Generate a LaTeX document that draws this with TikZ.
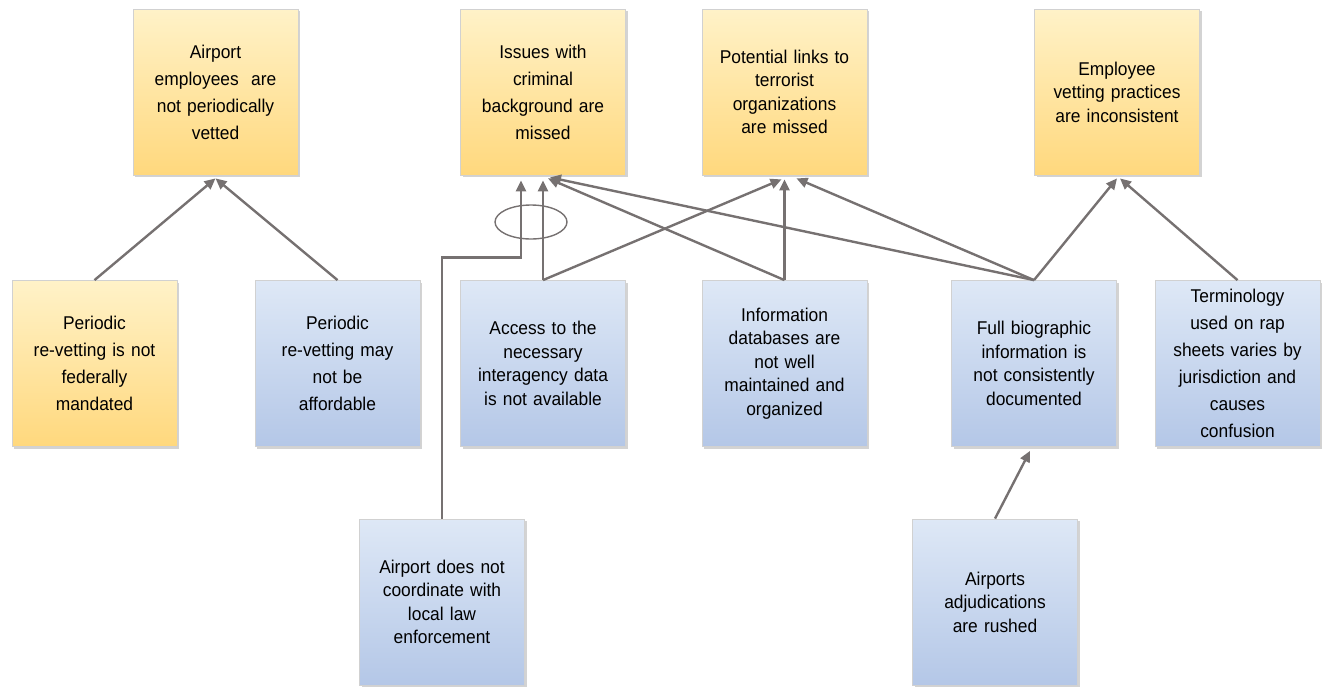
\documentclass[tikz,border=0pt]{standalone}
\usepackage{fontspec}
\setmainfont{Liberation Sans}[FakeStretch=0.94]
\usetikzlibrary{arrows.meta,shadows,shapes.geometric,calc}
\definecolor{linegray}{RGB}{118,113,113}
\definecolor{ytop}{RGB}{255,242,200}
\definecolor{ybot}{RGB}{255,216,125}
\definecolor{btop}{RGB}{222,232,246}
\definecolor{bbot}{RGB}{180,199,231}
\tikzset{
  card/.style={rectangle, minimum width=165pt, minimum height=166pt, text width=162pt,
    align=center, inner sep=0pt, draw=black!18, line width=0.8pt,
    drop shadow={shadow xshift=2pt, shadow yshift=-2pt, opacity=0.35, fill=black!50}},
  ycard/.style={card, top color=ytop, bottom color=ybot},
  bcard/.style={card, top color=btop, bottom color=bbot},
  wide/.style={font=\fontsize{18.5}{27}\selectfont},
  tight/.style={font=\fontsize{18.5}{23.5}\selectfont},
  arr/.style={draw=linegray, line width=2.4pt, -{Triangle[length=11pt,width=10pt]}},
  ring/.style={ellipse, draw=linegray, line width=1.4pt, minimum width=72pt, minimum height=34pt, inner sep=0pt}
}
\begin{document}
\begin{tikzpicture}[x=1pt,y=-1pt]
\useasboundingbox (0,0) rectangle (1322,686);
% top row
\node[ycard,wide] (A) at (215.5,92) {Airport\\employees~ are\\not periodically\\vetted};
\node[ycard,wide] (B) at (543,92) {Issues with\\criminal\\background are\\missed};
\node[ycard,tight] (C) at (784.5,92) {Potential links to\\terrorist\\organizations\\are missed};
\node[ycard,tight] (D) at (1117,92) {Employee\\vetting practices\\are inconsistent};
% middle row
\node[ycard,wide] (E) at (94.5,363.5) {Periodic\\re-vetting is not\\federally\\mandated};
\node[bcard,wide] (F) at (337.5,363.5) {Periodic\\re-vetting may\\not be\\affordable};
\node[bcard,tight] (G) at (543,363.5) {Access to the\\necessary\\interagency data\\is not available};
\node[bcard,tight] (H) at (784.5,363.5) {Information\\databases are\\not well\\maintained and\\organized};
\node[bcard,tight] (I) at (1034,363.5) {Full biographic\\information is\\not consistently\\documented};
\node[bcard,wide] (J) at (1237.5,363.5) {Terminology\\used on rap\\sheets varies by\\jurisdiction and\\causes\\confusion};
% bottom row
\node[bcard,tight] (K) at (442,602) {Airport does not\\coordinate with\\local law\\enforcement};
\node[bcard,tight] (L) at (995,602) {Airports\\adjudications\\are rushed};
% connectors
\draw[arr] (E.north) -- ($(A.south)+(0,3)$);
\draw[arr] (F.north) -- ($(A.south)+(0,3)$);
\coordinate (kb) at ($(B.south)+(-22,82)$);
\draw[arr] (K.north) |- (kb) -- ($(B.south)+(-22,5)$);
\draw[arr] (G.north) -- ($(B.south)+(0,5)$);
\draw[arr] (G.north) -- ($(C.south)+(-3,4)$);
\draw[arr] (H.north) -- ($(B.south)+(5,3)$);
\draw[arr] (H.north) -- ($(C.south)+(0,4)$);
\draw[arr] (I.north) -- ($(B.south)+(7,2)$);
\draw[arr] (I.north) -- ($(C.south)+(12,3)$);
\draw[arr] (I.north) -- ($(D.south)+(0,3)$);
\draw[arr] (J.north) -- ($(D.south)+(3,3)$);
\draw[arr] (L.north) -- ($(I.south)+(-4,4)$);
\node[ring] (R) at (531,222) {};
\end{tikzpicture}
\end{document}
